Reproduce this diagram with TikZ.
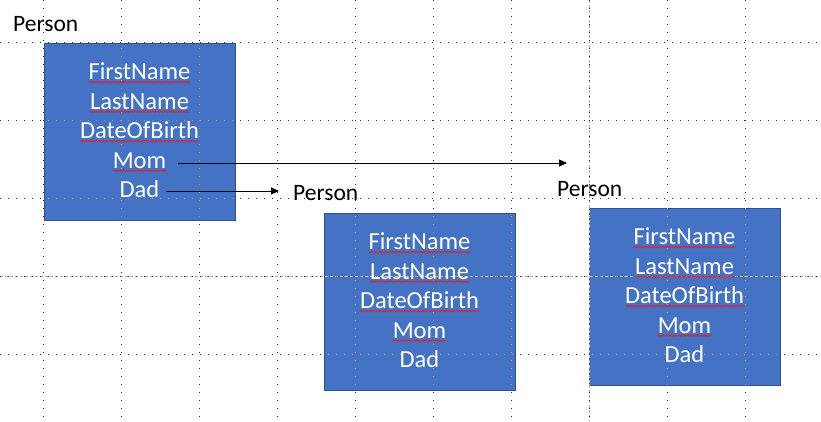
\documentclass[tikz,border=0pt]{standalone}
\usepackage{fontspec}
\setmainfont{Carlito}
\usetikzlibrary{arrows.meta,decorations.pathmorphing}
\definecolor{boxblue}{HTML}{4472C4}
\definecolor{boxedge}{HTML}{2F528F}
\definecolor{gridin}{HTML}{C8963C}
\definecolor{centergray}{HTML}{A6A6A6}
\definecolor{wavered}{HTML}{E0202A}
\tikzset{
  gridline/.style={line width=0.9pt,dash pattern=on 0.9pt off 7.1pt},
  centerline/.style={line width=0.8pt,dash pattern=on 3pt off 2pt},
  classbox/.style={draw=boxedge,fill=boxblue,line width=0.8pt,minimum width=191pt,minimum height=177pt,anchor=north west,inner sep=0pt},
  field/.style={anchor=base,text=white,inner sep=0pt,font=\fontsize{24.5}{28}\selectfont},
  title/.style={anchor=base west,inner sep=0pt,font=\fontsize{23.5}{28}\selectfont},
  wavy/.style={draw=wavered,line width=0.7pt,decorate,decoration={snake,amplitude=0.8pt,segment length=2.6pt}},
  link/.style={line width=0.9pt,-{Triangle[length=8pt,width=7pt]}}
}
\newcommand\drawgrid[2]{%
  \draw[centerline,#2] (589,0) -- (589,421);
  \draw[centerline,#2] (0,276) -- (821,276);
  \foreach \gx in {43,121,199,277,355,433,511,589,667,745}
    \draw[gridline,#1] (\gx,0) -- (\gx,421);
  \foreach \gy in {42,120,198,276,354}
    \draw[gridline,#1] (0,\gy) -- (821,\gy);
}
\begin{document}
\begin{tikzpicture}[x=1pt,y=-1pt]
\useasboundingbox (0,0) rectangle (821,421);
\fill[white] (0,0) rectangle (821,421);
\drawgrid{black!85}{centergray}
\foreach \n/\bx/\by in {1/44/43,2/324/213,3/589/208}
  \node[classbox] (b\n) at (\bx,\by) {};
\begin{scope}
  \clip (b1.north west) rectangle (b1.south east)
        (b2.north west) rectangle (b2.south east)
        (b3.north west) rectangle (b3.south east);
  \drawgrid{gridin}{gridin!60!white}
\end{scope}
\foreach \n/\cx/\by in {1/139.5/43,2/419.5/213,3/684.5/208}{
  \foreach \k/\w in {0/FirstName,1/LastName,2/DateOfBirth,3/Mom,4/Dad}
    \node[field] (f\n-\k) at (\cx,\by+36.5+\k*29.5) {\w};
  \foreach \k in {0,1,2,3}
    \draw[wavy] ([yshift=-2.6pt]f\n-\k.base west) -- ([yshift=-2.6pt]f\n-\k.base east);
}
\node[title] (p1) at (13,31) {Person};
\node[title] (p2) at (293,200) {Person};
\node[title] (p3) at (557,196) {Person};
\coordinate (momstart) at (178,163);
\coordinate (momend) at (567,163);
\coordinate (dadstart) at (166,191);
\coordinate (dadend) at (279,191);
\draw[link] (momstart) -- (momend);
\draw[link] (dadstart) -- (dadend);
\end{tikzpicture}
\end{document}
